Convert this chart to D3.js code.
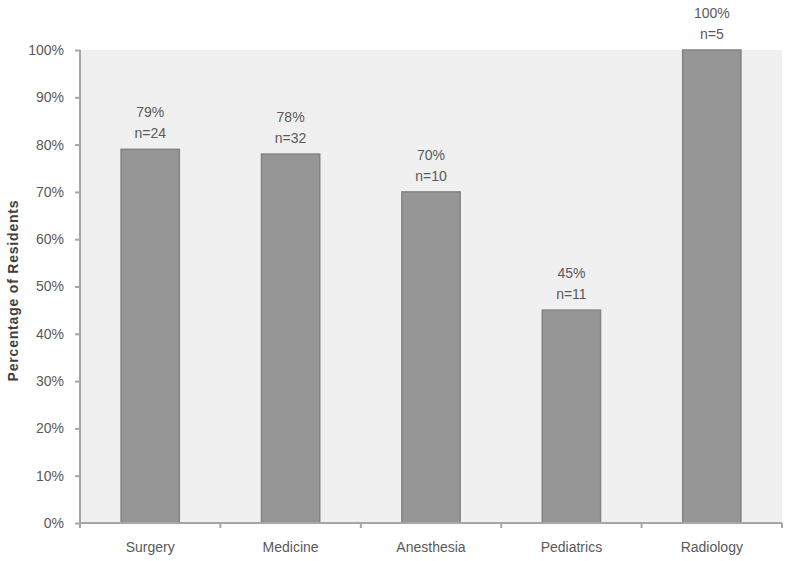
<!DOCTYPE html>
<html>
<head>
<meta charset="utf-8">
<script src="https://cdn.jsdelivr.net/npm/d3@7"></script>
<style>
	body { margin: 0; background: #fff; }
	text { font-family: "Liberation Sans", Arial, sans-serif; fill: #595959; }
</style>
</head>
<body>
<svg id="chart" width="790" height="561"></svg>
<script>
// chart data
var categories = ['Surgery', 'Medicine', 'Anesthesia', 'Pediatrics', 'Radiology'];
var percents = [79, 78, 70, 45, 100];
var counts = [24, 32, 10, 11, 5];
var yTicks = [0, 10, 20, 30, 40, 50, 60, 70, 80, 90, 100];

var svg = d3.select('#chart');
var plotL = 80, plotR = 782, plotT = 50, plotB = 523;

var x = d3.scaleBand().domain(categories).range([plotL, plotR]).padding(0);
var y = d3.scaleLinear().domain([0, 100]).range([plotB, plotT]);

// plot background
svg.append('rect')
	.attr('x', plotL).attr('y', plotT)
	.attr('width', plotR - plotL).attr('height', plotB - plotT)
	.attr('fill', '#f0f0f0');

// bars
var barW = x.bandwidth() * 0.415;
var rows = categories.map(function(c, i) {
	return { cat: c, pct: percents[i], n: counts[i] };
});

svg.selectAll('rect.bar').data(rows).enter().append('rect')
	.attr('class', 'bar')
	.attr('x', function(d) { return x(d.cat) + (x.bandwidth() - barW) / 2; })
	.attr('y', function(d) { return y(d.pct); })
	.attr('width', barW)
	.attr('height', function(d) { return y(0) - y(d.pct); })
	.attr('fill', '#969696')
	.attr('stroke', '#838383')
	.attr('stroke-width', 1.5);

// value labels
var labels = svg.selectAll('g.lbl').data(rows).enter().append('g')
	.attr('class', 'lbl')
	.attr('transform', function(d) {
		return 'translate(' + (x(d.cat) + x.bandwidth() / 2) + ',' + y(d.pct) + ')';
	});
labels.append('text').attr('y', -32).attr('text-anchor', 'middle')
	.style('font-size', '14px')
	.text(function(d) { return d.pct + '%'; });
labels.append('text').attr('y', -11).attr('text-anchor', 'middle')
	.style('font-size', '14px')
	.text(function(d) { return 'n=' + d.n; });

// y axis
var yAxis = svg.append('g')
	.attr('transform', 'translate(' + plotL + ',0)')
	.call(d3.axisLeft(y).tickValues(yTicks).tickSize(5).tickPadding(11)
		.tickFormat(function(d) { return d + '%'; }));
yAxis.select('.domain').attr('stroke', '#a6a6a6').attr('stroke-width', 2)
	.attr('d', 'M0,' + plotT + 'V' + plotB);
yAxis.selectAll('.tick line').attr('stroke', '#a6a6a6').attr('stroke-width', 2);
yAxis.selectAll('.tick text').style('font-size', '14px')
	.style('font-family', '"Liberation Sans", Arial, sans-serif').attr('fill', '#595959');

// x axis
var xAxis = svg.append('g')
	.attr('transform', 'translate(0,' + plotB + ')')
	.call(d3.axisBottom(x).tickSize(0).tickPadding(19));
xAxis.select('.domain').attr('stroke', '#a6a6a6').attr('stroke-width', 2)
	.attr('d', 'M' + plotL + ',0H' + plotR);
xAxis.selectAll('.tick text').style('font-size', '14px')
	.style('font-family', '"Liberation Sans", Arial, sans-serif').attr('fill', '#595959');

// category boundary ticks
var bounds = categories.map(function(c) { return x(c); }).concat([plotR]);
xAxis.selectAll('line.sep').data(bounds).enter().append('line')
	.attr('class', 'sep')
	.attr('x1', function(d) { return d; }).attr('x2', function(d) { return d; })
	.attr('y1', 0).attr('y2', 5)
	.attr('stroke', '#a6a6a6').attr('stroke-width', 2);

// y title
svg.append('text')
	.attr('transform', 'translate(18,' + ((plotT + plotB) / 2 + 4) + ') rotate(-90)')
	.attr('text-anchor', 'middle')
	.style('font-size', '14px').style('font-weight', 'bold')
	.style('letter-spacing', '0.8px')
	.style('fill', '#404040')
	.text('Percentage  of Residents');
</script>
</body>
</html>
